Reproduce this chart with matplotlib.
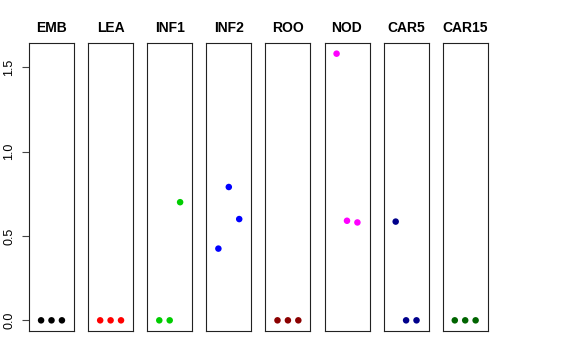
import matplotlib
matplotlib.use("Agg")
import matplotlib.pyplot as plt

plt.rcParams["font.family"] = ["Liberation Sans", "DejaVu Sans"]

tissues = ["EMB", "LEA", "INF1", "INF2", "ROO", "NOD", "CAR5", "CAR15"]
colors = ["black", "#FF0000", "#00CD00", "#0000FF", "#8B0000", "#FF00FF", "#00008B", "#006400"]
reps = [1, 2, 3]

emb = [0.0, 0.0, 0.0]
lea = [0.0, 0.0, 0.0]
inf1 = [0.0, 0.0, 0.70]
inf2 = [0.425, 0.79, 0.60]
roo = [0.0, 0.0, 0.0]
nod = [1.58, 0.59, 0.58]
car5 = [0.585, 0.0, 0.0]
car15 = [0.0, 0.0, 0.0]
values = [emb, lea, inf1, inf2, roo, nod, car5, car15]

ymax = max(max(v) for v in values)
pad = 0.04 * ymax

fig = plt.figure(figsize=(5.76, 3.6), dpi=100)
W, H = 576, 360
for i, (name, col, vals) in enumerate(zip(tissues, colors, values)):
    left = 29 + i * 59.1
    ax = fig.add_axes([left / W, (H - 331) / H, 45 / W, 288 / H])
    ax.scatter(reps, vals, s=22, color=col, edgecolors="none", zorder=3)
    ax.set_xlim(-0.16, 4.16)
    ax.set_ylim(-pad, ymax + pad)
    ax.set_xticks([])
    ax.set_title(name, fontsize=10, fontweight="bold", pad=8)
    for sp in ax.spines.values():
        sp.set_linewidth(0.8)
        sp.set_color("#222222")
    if i == 0:
        ax.set_yticks([0.0, 0.5, 1.0, 1.5])
        ax.set_yticklabels(["0.0", "0.5", "1.0", "1.5"], rotation=90, va="center", fontsize=9)
        ax.tick_params(axis="y", length=5, width=0.8, color="#444444", pad=5)
    else:
        ax.set_yticks([])

fig.savefig("out.png", dpi=100)
